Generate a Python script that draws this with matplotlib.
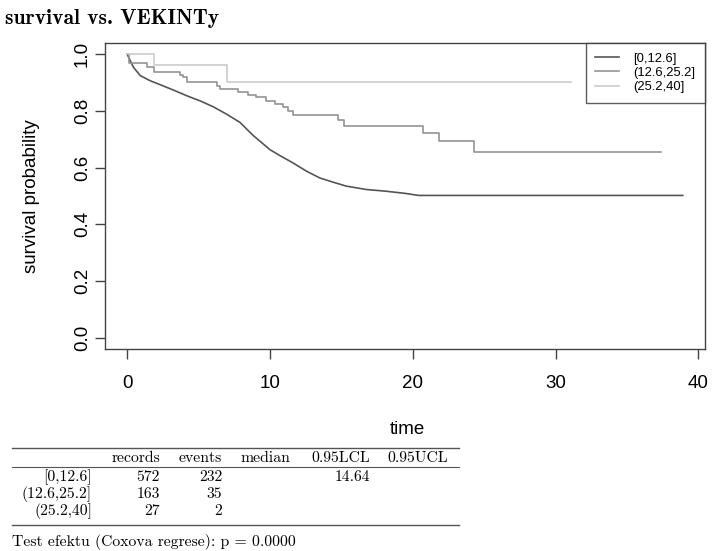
import matplotlib
matplotlib.use("Agg")
from matplotlib import pyplot as plt

# ---------------------------------------------------------------------------
# Data (Kaplan-Meier estimates per VEKINTy group)
# ---------------------------------------------------------------------------
groups = ["[0,12.6]", "(12.6,25.2]", "(25.2,40]"]

t_low = [0, 0.21, 0.44, 0.91, 1.6, 2.3, 3.23, 4.16, 5.09, 6.02, 6.95, 7.89,
         8.81, 9.28, 9.98, 10.68, 11.6, 12.54, 13.47, 14.4, 15.33, 16.73,
         18.1, 19.5, 20.4, 38.9]
s_low = [1.0, 0.978, 0.954, 0.925, 0.907, 0.893, 0.874, 0.854, 0.836, 0.815,
         0.789, 0.760, 0.714, 0.694, 0.664, 0.643, 0.617, 0.588, 0.564, 0.549,
         0.535, 0.523, 0.517, 0.509, 0.502, 0.502]

t_mid = [0, 0.15, 1.37, 1.84, 3.7, 3.93, 4.17, 6.26, 6.49, 7.77, 8.47, 9.05,
         9.75, 10.33, 10.91, 11.26, 11.6, 14.75, 15.2, 20.7, 21.8, 24.3, 37.4]
s_mid = [1.0, 0.968, 0.954, 0.936, 0.928, 0.919, 0.903, 0.889, 0.877, 0.868,
         0.858, 0.848, 0.836, 0.824, 0.813, 0.799, 0.785, 0.768, 0.747, 0.722,
         0.694, 0.655, 0.655]

t_high = [0, 1.84, 6.96, 31.1]
s_high = [1.0, 0.963, 0.903, 0.903]

# summary table
col_names = ["records", "events", "median", "0.95LCL", "0.95UCL"]
records = ["572", "163", "27"]
events = ["232", "35", "2"]
median = ["", "", ""]
lcl = ["14.64", "", ""]
ucl = ["", "", ""]
p_text = "Test efektu (Coxova regrese): p = 0.0000"

# ---------------------------------------------------------------------------
W, H = 712, 551
fig = plt.figure(figsize=(W / 100, H / 100), dpi=100)
sans = ["Liberation Sans", "DejaVu Sans"]


def fx(px):
    return px / W


def fy(py):
    return 1 - py / H


ax = fig.add_axes([fx(105), fy(349), fx(600), (349 - 43) / H])

ax.plot(t_low, s_low, color="#555555", lw=1.2, label=groups[0])
ax.step(t_mid, s_mid, where="post", color="#939393", lw=1.2, label=groups[1])
ax.step(t_high, s_high, where="post", color="#cbcbcb", lw=1.2, label=groups[2])

ax.set_xlim(-1.556, 40.456)
ax.set_ylim(-0.04, 1.04)
ax.set_xticks([0, 10, 20, 30, 40])
ax.set_yticks([0.0, 0.2, 0.4, 0.6, 0.8, 1.0])
ax.set_yticklabels(["0.0", "0.2", "0.4", "0.6", "0.8", "1.0"],
                   rotation=90, va="center")
ax.tick_params(direction="out", length=7, width=1, color="#444444",
               labelsize=13.5)
ax.tick_params(axis="x", pad=12)
ax.tick_params(axis="y", pad=3)
for lab in ax.get_xticklabels() + ax.get_yticklabels():
    lab.set_family(sans)
for sp in ax.spines.values():
    sp.set_color("#444444")
    sp.set_linewidth(1)

fig.text(fx(32), fy(196), "survival probability", fontsize=13.5, family=sans,
         rotation=90, ha="center", va="center")

leg = ax.legend(loc="upper right", frameon=True, fancybox=False,
                borderaxespad=0, handlelength=1.8, handletextpad=1.1,
                borderpad=0.75, labelspacing=0.15,
                prop={"family": sans, "size": 9.4})
leg.get_frame().set_edgecolor("#333333")
leg.get_frame().set_linewidth(1)

# title and x label
fig.text(fx(5), fy(18), "survival vs. VEKINTy", family="cmb10", fontsize=15.5,
         va="center", ha="left")
fig.text(fx(407), fy(430), "time", family=sans, fontsize=13.5,
         ha="center", va="center")

# summary table
fig.add_artist(plt.Line2D([fx(12), fx(459)], [fy(448), fy(448)], color="#555555", lw=1))
fig.add_artist(plt.Line2D([fx(12), fx(459)], [fy(467), fy(467)], color="#555555", lw=0.8))
fig.add_artist(plt.Line2D([fx(12), fx(459)], [fy(525), fy(525)], color="#555555", lw=1))

col_right = [160, 222, 290, 370, 448]
tab_font = dict(family="cmr10", fontsize=11.3, va="center")
for name, xr in zip(col_names, col_right):
    fig.text(fx(xr), fy(458), name, ha="right", **tab_font)

row_y = [477, 494, 511]
for i, g in enumerate(groups):
    fig.text(fx(92), fy(row_y[i]), g, ha="right", **tab_font)
    vals = [records[i], events[i], median[i], lcl[i], ucl[i]]
    for v, xr in zip(vals, col_right):
        if v:
            fig.text(fx(xr), fy(row_y[i]), v, ha="right", **tab_font)

fig.text(fx(12), fy(542), p_text, ha="left", **tab_font)

fig.savefig("out.png", dpi=100)
